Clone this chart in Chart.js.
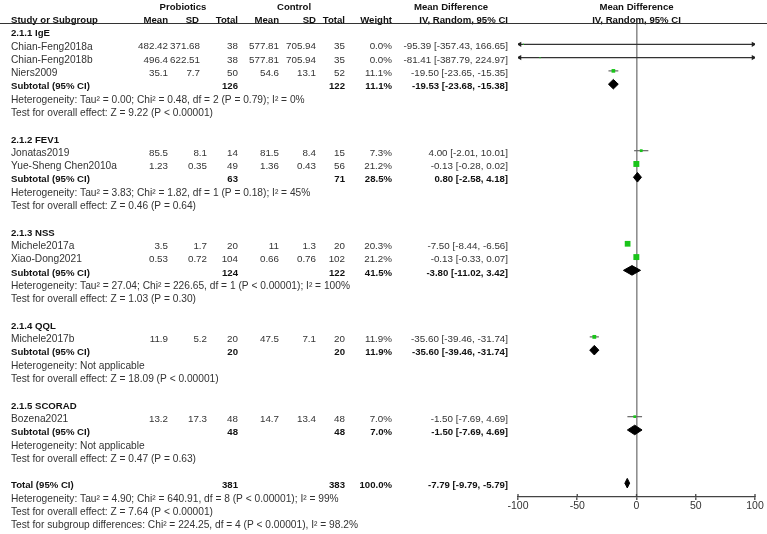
<!DOCTYPE html>
<html lang="en">
<head>
<meta charset="UTF-8">
<title>Probiotics vs Control - forest plot</title>
<script src="https://cdn.jsdelivr.net/npm/chart.js"></script>
<style>
    body {
        margin: 0;
        background: #fff;
    }
    canvas {
        display: block;
    }
</style>
</head>
<body>
<canvas id="forest" width="767" height="534"></canvas>
<script>
    // studies
    const studyNames = ['Chian-Feng2018a', 'Chian-Feng2018b', 'Niers2009', 'Jonatas2019', 'Yue-Sheng Chen2010a',
        'Michele2017a', 'Xiao-Dong2021', 'Michele2017b', 'Bozena2021'];
    const studyGroup = [0, 0, 0, 1, 1, 2, 2, 3, 4];
    const probMean = [482.42, 496.4, 35.1, 85.5, 1.23, 3.5, 0.53, 11.9, 13.2];
    const probSD = [371.68, 622.51, 7.7, 8.1, 0.35, 1.7, 0.72, 5.2, 17.3];
    const probN = [38, 38, 50, 14, 49, 20, 104, 20, 48];
    const ctrlMean = [577.81, 577.81, 54.6, 81.5, 1.36, 11, 0.66, 47.5, 14.7];
    const ctrlSD = [705.94, 705.94, 13.1, 8.4, 0.43, 1.3, 0.76, 7.1, 13.4];
    const ctrlN = [35, 35, 52, 15, 56, 20, 102, 20, 48];
    const weight = [0.0, 0.0, 11.1, 7.3, 21.2, 20.3, 21.2, 11.9, 7.0];
    const md = [-95.39, -81.41, -19.50, 4.00, -0.13, -7.50, -0.13, -35.60, -1.50];
    const mdLo = [-357.43, -387.79, -23.65, -2.01, -0.28, -8.44, -0.33, -39.46, -7.69];
    const mdHi = [166.65, 224.97, -15.35, 10.01, 0.02, -6.56, 0.07, -31.74, 4.69];

    // subgroups
    const groupNames = ['2.1.1 IgE', '2.1.2 FEV1', '2.1.3 NSS', '2.1.4 QQL', '2.1.5 SCORAD'];
    const groupProbN = [126, 63, 124, 20, 48];
    const groupCtrlN = [122, 71, 122, 20, 48];
    const groupWeight = [11.1, 28.5, 41.5, 11.9, 7.0];
    const groupMd = [-19.53, 0.80, -3.80, -35.60, -1.50];
    const groupLo = [-23.68, -2.58, -11.02, -39.46, -7.69];
    const groupHi = [-15.38, 4.18, 3.42, -31.74, 4.69];
    const groupHet = [
        'Heterogeneity: Tau² = 0.00; Chi² = 0.48, df = 2 (P = 0.79); I² = 0%',
        'Heterogeneity: Tau² = 3.83; Chi² = 1.82, df = 1 (P = 0.18); I² = 45%',
        'Heterogeneity: Tau² = 27.04; Chi² = 226.65, df = 1 (P < 0.00001); I² = 100%',
        'Heterogeneity: Not applicable',
        'Heterogeneity: Not applicable'
    ];
    const groupTest = [
        'Test for overall effect: Z = 9.22 (P < 0.00001)',
        'Test for overall effect: Z = 0.46 (P = 0.64)',
        'Test for overall effect: Z = 1.03 (P = 0.30)',
        'Test for overall effect: Z = 18.09 (P < 0.00001)',
        'Test for overall effect: Z = 0.47 (P = 0.63)'
    ];

    // overall
    const totalProbN = 381;
    const totalCtrlN = 383;
    const totalWeight = 100.0;
    const totalMd = -7.79;
    const totalLo = -9.79;
    const totalHi = -5.79;
    const totalNotes = [
        'Heterogeneity: Tau² = 4.90; Chi² = 640.91, df = 8 (P < 0.00001); I² = 99%',
        'Test for overall effect: Z = 7.64 (P < 0.00001)',
        'Test for subgroup differences: Chi² = 224.25, df = 4 (P < 0.00001), I² = 98.2%'
    ];

    // axis
    const xTicks = [-100, -50, 0, 50, 100];
    const xMin = xTicks[0];
    const xMax = xTicks[xTicks.length - 1];

    // which table row each line lands on
    const studyRow = [], groupRow = [], subtotalRow = [];
    let r = 0;
    groupNames.forEach((g, gi) => {
        groupRow.push(r++);
        studyGroup.forEach((sg, si) => {
            if (sg === gi) studyRow[si] = r++;
        });
        subtotalRow.push(r);
        r += 4; // subtotal, heterogeneity, test, blank
    });
    const totalRow = r;

    const FONT = '"Liberation Sans", Arial, sans-serif';
    const ciText = (m, lo, hi) => m.toFixed(2) + ' [' + lo.toFixed(2) + ', ' + hi.toFixed(2) + ']';

    function diamond(m, lo, hi, row) {
        const h = 0.36;
        return {
            type: 'line',
            data: [{x: lo, y: row}, {x: m, y: row - h}, {x: hi, y: row}, {x: m, y: row + h}, {x: lo, y: row}],
            borderColor: '#000',
            backgroundColor: '#000',
            borderWidth: 1,
            pointRadius: 0,
            fill: 'shape',
            tension: 0
        };
    }

    const datasets = [];
    // green weight squares (first so they are drawn on top)
    datasets.push({
        data: studyNames.map((n, i) => ({x: md[i], y: studyRow[i]})),
        pointStyle: 'rect',
        pointRadius: weight.map(w => 0.8 + w * 0.16),
        backgroundColor: '#19c419',
        borderWidth: 0
    });
    // arrow heads for CIs running off the axis
    const arrowPts = [], arrowRot = [];
    studyNames.forEach((n, i) => {
        if (mdLo[i] < xMin) { arrowPts.push({x: xMin + 1.5, y: studyRow[i]}); arrowRot.push(-90); }
        if (mdHi[i] > xMax) { arrowPts.push({x: xMax - 1.5, y: studyRow[i]}); arrowRot.push(90); }
    });
    datasets.push({
        data: arrowPts,
        pointStyle: 'triangle',
        rotation: arrowRot,
        pointRadius: 3,
        backgroundColor: '#222',
        borderWidth: 0
    });
    // confidence interval lines
    studyNames.forEach((n, i) => {
        const clipped = mdLo[i] < xMin || mdHi[i] > xMax;
        datasets.push({
            type: 'line',
            data: [{x: Math.max(mdLo[i], xMin), y: studyRow[i]}, {x: Math.min(mdHi[i], xMax), y: studyRow[i]}],
            borderColor: clipped ? '#333' : '#666',
            borderWidth: 1.2,
            pointRadius: 0
        });
    });
    // subtotal + total diamonds
    groupNames.forEach((g, gi) => datasets.push(diamond(groupMd[gi], groupLo[gi], groupHi[gi], subtotalRow[gi])));
    datasets.push(diamond(totalMd, totalLo, totalHi, totalRow));

    const tablePlugin = {
        id: 'table',
        afterDraw(chart) {
            const ctx = chart.ctx;
            const ys = chart.scales.y;
            const xs = chart.scales.x;
            const rowY = row => ys.getPixelForValue(row) + 2.5;

            // size: 0 = text, 1 = narrower numbers
            function txt(s, x, row, align, bold, num) {
                const px = bold ? 9.6 : (num ? 9.8 : 10.2);
                ctx.font = (bold ? 'bold ' : '') + px + 'px ' + FONT;
                ctx.fillStyle = bold ? '#111' : '#333';
                ctx.textAlign = align || 'left';
                ctx.textBaseline = 'middle';
                ctx.fillText(String(s), x, rowY(row));
            }

            ctx.save();
            // column headers
            txt('Probiotics', 183, -2, 'center', true);
            txt('Control', 294, -2, 'center', true);
            txt('Mean Difference', 451, -2, 'center', true);
            txt('Mean Difference', xs.getPixelForValue(0), -2, 'center', true);
            txt('Study or Subgroup', 11, -1, 'left', true);
            txt('Mean', 168, -1, 'right', true);
            txt('SD', 199, -1, 'right', true);
            txt('Total', 238, -1, 'right', true);
            txt('Mean', 279, -1, 'right', true);
            txt('SD', 316, -1, 'right', true);
            txt('Total', 345, -1, 'right', true);
            txt('Weight', 392, -1, 'right', true);
            txt('IV, Random, 95% CI', 508, -1, 'right', true);
            txt('IV, Random, 95% CI', xs.getPixelForValue(0), -1, 'center', true);

            ctx.strokeStyle = '#333';
            ctx.lineWidth = 1;
            ctx.beginPath();
            ctx.moveTo(0, 23.5);
            ctx.lineTo(767, 23.5);
            ctx.stroke();

            // study rows
            studyNames.forEach((n, i) => {
                const row = studyRow[i];
                txt(n, 11, row);
                txt(probMean[i], 168, row, 'right', false, true);
                txt(probSD[i], studyGroup[i] === 0 ? 200 : 207, row, 'right', false, true);
                txt(probN[i], 238, row, 'right', false, true);
                txt(ctrlMean[i], 279, row, 'right', false, true);
                txt(ctrlSD[i], 316, row, 'right', false, true);
                txt(ctrlN[i], 345, row, 'right', false, true);
                txt(weight[i].toFixed(1) + '%', 392, row, 'right', false, true);
                txt(ciText(md[i], mdLo[i], mdHi[i]), 508, row, 'right', false, true);
            });

            // subgroup blocks
            groupNames.forEach((g, gi) => {
                const s = subtotalRow[gi];
                txt(g, 11, groupRow[gi], 'left', true);
                txt('Subtotal (95% CI)', 11, s, 'left', true);
                txt(groupProbN[gi], 238, s, 'right', true);
                txt(groupCtrlN[gi], 345, s, 'right', true);
                txt(groupWeight[gi].toFixed(1) + '%', 392, s, 'right', true);
                txt(ciText(groupMd[gi], groupLo[gi], groupHi[gi]), 508, s, 'right', true);
                txt(groupHet[gi], 11, s + 1);
                txt(groupTest[gi], 11, s + 2);
            });

            // overall
            txt('Total (95% CI)', 11, totalRow, 'left', true);
            txt(totalProbN, 238, totalRow, 'right', true);
            txt(totalCtrlN, 345, totalRow, 'right', true);
            txt(totalWeight.toFixed(1) + '%', 392, totalRow, 'right', true);
            txt(ciText(totalMd, totalLo, totalHi), 508, totalRow, 'right', true);
            totalNotes.forEach((t, i) => txt(t, 11, totalRow + 1 + i));

            // small tick marks above the axis line
            ctx.strokeStyle = '#444';
            ctx.lineWidth = 1.3;
            xs.ticks.forEach(t => {
                const px = xs.getPixelForValue(t.value);
                ctx.beginPath();
                ctx.moveTo(px, xs.top - 3);
                ctx.lineTo(px, xs.top);
                ctx.stroke();
            });
            ctx.restore();
        }
    };

    new Chart(document.getElementById('forest'), {
        type: 'scatter',
        data: {datasets: datasets},
        options: {
            responsive: false,
            animation: false,
            events: [],
            layout: {padding: {left: 518, right: 12, top: 23, bottom: 0}},
            plugins: {
                legend: {display: false},
                tooltip: {enabled: false}
            },
            scales: {
                x: {
                    type: 'linear',
                    min: xMin,
                    max: xMax,
                    afterBuildTicks: s => { s.ticks = xTicks.map(v => ({value: v})); },
                    afterFit: s => { s.height = 37; },
                    ticks: {
                        color: '#333',
                        padding: 0,
                        font: {family: FONT, size: 10.5}
                    },
                    grid: {
                        color: c => (c.tick && c.tick.value === 0) ? '#8f8f8f' : 'rgba(0,0,0,0)',
                        lineWidth: 1.6,
                        tickColor: '#444',
                        tickLength: 3,
                        tickWidth: 1.3
                    },
                    border: {display: true, color: '#444', width: 1.3}
                },
                y: {
                    type: 'linear',
                    display: false,
                    reverse: true,
                    min: -0.6,
                    max: 35.04
                }
            }
        },
        plugins: [tablePlugin]
    });
</script>
</body>
</html>
